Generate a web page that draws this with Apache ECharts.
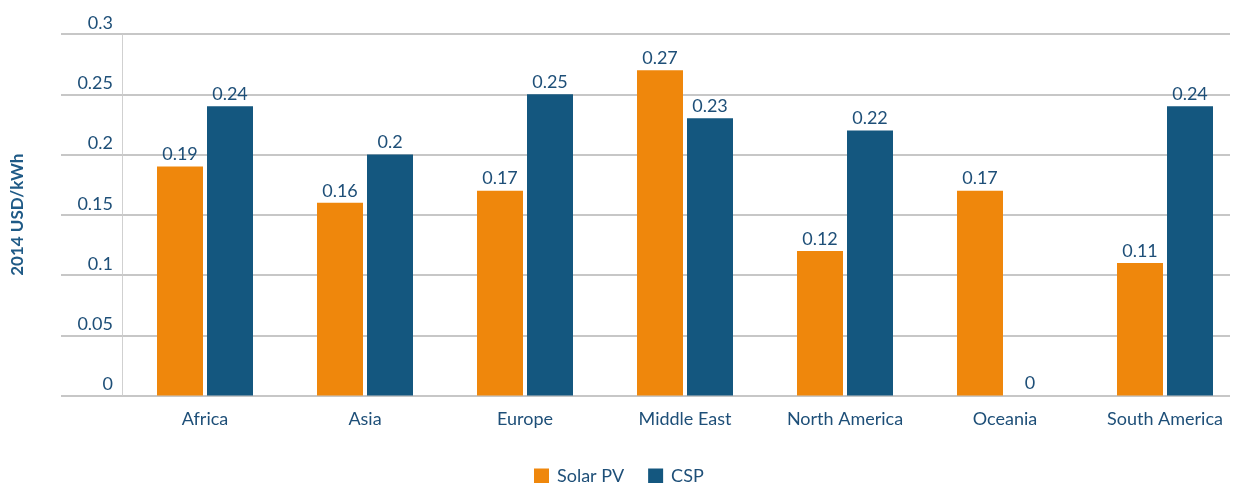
<!DOCTYPE html>
<html>
<head>
<meta charset="utf-8">
<script src="https://cdn.jsdelivr.net/npm/echarts@6/dist/echarts.min.js"></script>
<style>html,body{margin:0;padding:0;background:#fff}#c{width:1245px;height:483px}</style>
</head>
<body>
<div id="c"></div>
<script>
const categories = ['Africa','Asia','Europe','Middle East','North America','Oceania','South America'];
const solarPV = [0.19, 0.16, 0.17, 0.27, 0.12, 0.17, 0.11];
const csp = [0.24, 0.2, 0.25, 0.23, 0.22, 0, 0.24];
const yTicks = [0, 0.05, 0.1, 0.15, 0.2, 0.25, 0.3];

const txt = '#1e4f78';
const orange = '#EF870C';
const blue = '#14577F';
const font = 'Lato';

const chart = echarts.init(document.getElementById('c'), null, {renderer: 'canvas'});
const labelOpt = {show: true, position: 'top', distance: 3, color: txt, fontFamily: font, fontSize: 18,
  formatter: p => String(p.value)};
chart.setOption({
  animation: false,
  textStyle: {fontFamily: font},
  grid: [
    {left: 61, right: 15, top: 34, bottom: 87.5},
    {left: 125, width: 1123, top: 34, bottom: 87.5}
  ],
  xAxis: [
    {gridIndex: 0, type: 'category', data: categories, show: false},
    {gridIndex: 1, type: 'category', data: categories,
     axisLine: {show: false}, axisTick: {show: false},
     axisLabel: {color: txt, fontFamily: font, fontSize: 18, margin: 15}}
  ],
  yAxis: [
    {gridIndex: 0, type: 'value', min: 0, max: 0.3, interval: 0.05,
     axisLabel: {show: false}, axisLine: {show: false}, axisTick: {show: false},
     splitLine: {show: true, lineStyle: {color: '#b4b4b4', width: 1.5}}},
    {gridIndex: 1, type: 'value', min: 0, max: 0.3, interval: 0.05, offset: 3,
     name: '2014 USD/kWh', nameLocation: 'middle', nameGap: 96, nameRotate: 90,
     nameTextStyle: {color: '#1f5a86', fontFamily: font, fontSize: 17, fontWeight: 'bold'},
     axisLine: {show: true, lineStyle: {color: '#cccccc', type: 'dotted', width: 1}},
     axisTick: {show: false},
     splitLine: {show: false},
     axisLabel: {color: txt, fontFamily: font, fontSize: 18, margin: 9, verticalAlign: 'bottom',
       padding: [0, 0, 2, 0],
       formatter: v => { const t = yTicks.find(x => Math.abs(x - v) < 1e-9); return t === undefined ? '' : String(t); }}}
  ],
  legend: {
    left: 529, top: 462, itemWidth: 15, itemHeight: 15, itemGap: 24,
    icon: 'rect',
    textStyle: {color: txt, fontFamily: font, fontSize: 18, padding: [0, 0, 0, 3]},
    data: ['Solar PV', 'CSP']
  },
  series: [
    {name: 'Solar PV', type: 'bar', xAxisIndex: 1, yAxisIndex: 1, data: solarPV,
     barWidth: 46, barGap: '8.7%', itemStyle: {color: orange}, label: labelOpt},
    {name: 'CSP', type: 'bar', xAxisIndex: 1, yAxisIndex: 1, data: csp,
     barWidth: 46, barGap: '8.7%', itemStyle: {color: blue}, label: labelOpt}
  ]
});
</script>
</body>
</html>
